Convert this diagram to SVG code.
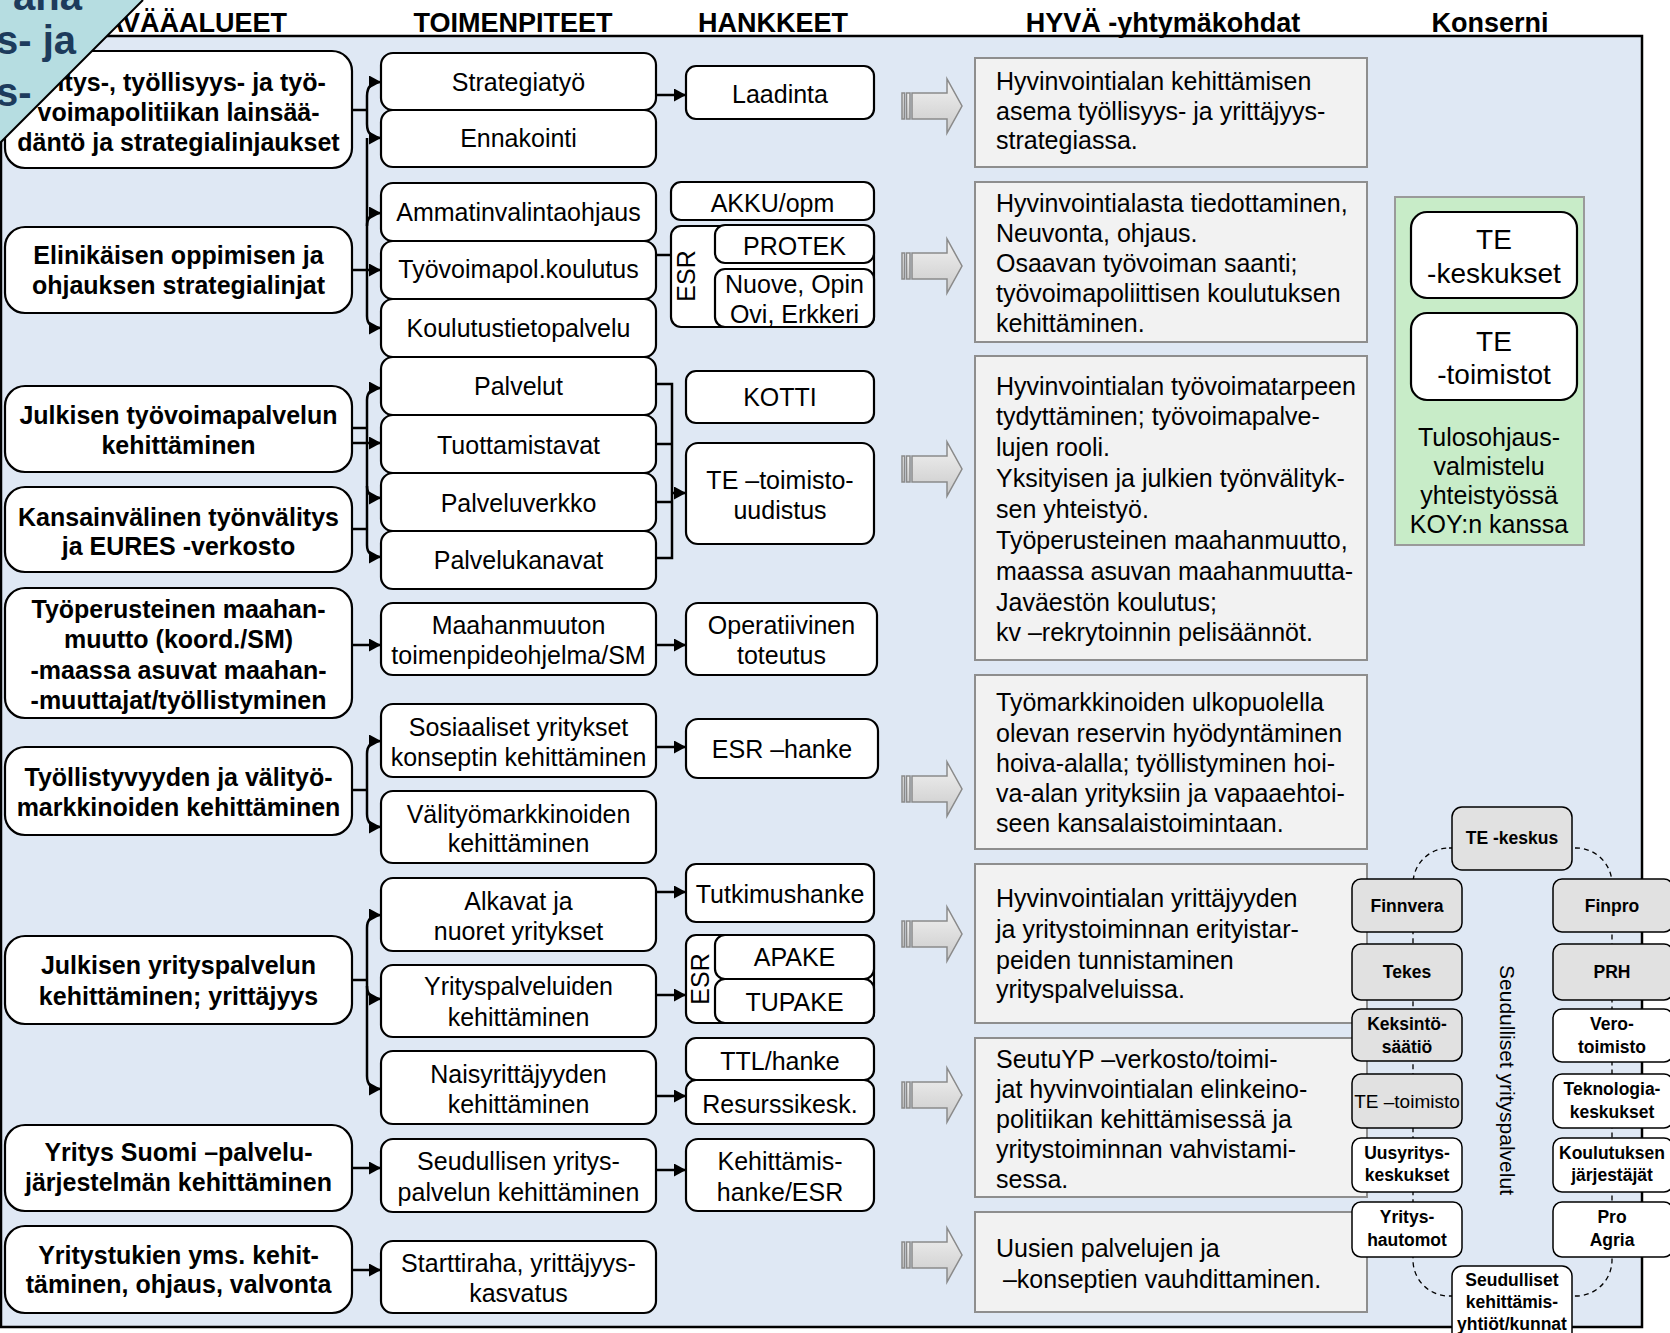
<svg xmlns="http://www.w3.org/2000/svg" width="1670" height="1333" viewBox="0 0 1670 1333">
<defs>
<style>
text{font-family:"Liberation Sans",Arial,Helvetica,sans-serif;fill:#000}
.r{font-size:25px}
.bd{font-size:25px;font-weight:bold}
.hd{font-size:27px;font-weight:bold}
.nd{font-size:17.5px;font-weight:bold}
.te{font-size:28px}
.m{text-anchor:middle}
.wb{fill:#fff;stroke:#000;stroke-width:2.2}
.gb{fill:#f2f2f2;stroke:#8e8e8e;stroke-width:2}
.ln{fill:none;stroke:#000;stroke-width:2.5}
.ar{fill:none;stroke:#000;stroke-width:2.5;marker-end:url(#ah)}
.nw{fill:#fff;stroke:#000;stroke-width:1.5}
.ng{fill:#e1e1e1;stroke:#000;stroke-width:1.5}
.fa{fill:url(#fg);stroke:#8a8a8a;stroke-width:1.5}
.tri{font-size:40px;font-weight:bold;fill:#1d3b5c}
</style>
<marker id="ah" markerUnits="userSpaceOnUse" markerWidth="12" markerHeight="13" viewBox="0 0 12 13" refX="12" refY="6.5" orient="auto"><path d="M0,0 L12,6.5 L0,13 Z" fill="#000"/></marker>
<linearGradient id="fg" x1="0" y1="0" x2="0" y2="1"><stop offset="0" stop-color="#f2f2f2"/><stop offset="1" stop-color="#cacaca"/></linearGradient>
<g id="fat">
<rect class="fa" x="902" y="-13" width="2.5" height="26"/>
<rect class="fa" x="906.5" y="-13" width="3.5" height="26"/>
<path class="fa" d="M912,-13 H947 V-27 L962,0 L947,27 V13 H912 Z"/>
</g>
<clipPath id="tc"><polygon points="0,0 143,0 0,143"/></clipPath>
</defs>

<rect x="1" y="36" width="1641" height="1291" fill="#dfe8f4" stroke="#000" stroke-width="2.5"/>

<g id="headers">
<text class="hd" x="287" y="32" text-anchor="end">AVÄÄALUEET</text>
<text class="hd m" x="513" y="32">TOIMENPITEET</text>
<text class="hd m" x="773" y="32">HANKKEET</text>
<text class="hd m" x="1163" y="32">HYVÄ -yhtymäkohdat</text>
<text class="hd m" x="1490" y="32">Konserni</text>
</g>

<g id="connectors">
<path class="ln" d="M352,110 H367"/>
<path class="ar" d="M367,110 V96 Q367,82 381,82"/>
<path class="ar" d="M367,110 V124 Q367,138 381,138"/>
<path class="ar" d="M352,270 H381"/>
<path class="ar" d="M367,138 V316 Q367,328 381,328"/>
<path class="ar" d="M367,226 Q367,213 381,213"/>
<path class="ln" d="M352,428 H367"/>
<path class="ar" d="M352,443 H381"/>
<path class="ar" d="M367,400 Q367,388 381,388"/>
<path class="ar" d="M367,400 V545 Q367,557 381,557"/>
<path class="ar" d="M367,486 Q367,498 381,498"/>
<path class="ln" d="M352,529 H367"/>
<path class="ar" d="M352,645 H381"/>
<path class="ln" d="M352,790 H367"/>
<path class="ar" d="M367,790 V754 Q367,741 381,741"/>
<path class="ar" d="M367,790 V814 Q367,827 381,827"/>
<path class="ln" d="M352,980 H367"/>
<path class="ar" d="M367,980 V928 Q367,915 381,915"/>
<path class="ar" d="M367,980 V1076 Q367,1089 381,1089"/>
<path class="ar" d="M367,986 Q367,999 381,999"/>
<path class="ar" d="M352,1168 H381"/>
<path class="ar" d="M352,1270 H381"/>
<path class="ar" d="M656,95 H686"/>
<path class="ln" d="M656,255 H671"/>
<path class="ln" d="M656,384 H672 V558 H656 M656,444 H672 M656,502 H672"/>
<path class="ar" d="M672,493 H686"/>
<path class="ar" d="M656,645 H686"/>
<path class="ar" d="M656,747 H686"/>
<path class="ar" d="M656,892 H686"/>
<path class="ar" d="M656,995 H686"/>
<path class="ar" d="M656,1096 H686"/>
<path class="ar" d="M656,1170 H686"/>
<use href="#fat" y="106"/>
<use href="#fat" y="266"/>
<use href="#fat" y="469"/>
<use href="#fat" y="789"/>
<use href="#fat" y="934"/>
<use href="#fat" y="1095"/>
<use href="#fat" y="1255"/>
<rect x="1413" y="848" width="199" height="448" rx="36" fill="none" stroke="#000" stroke-width="1.3" stroke-dasharray="5 4"/>
</g>

<g id="col1">
<g id="a1"><rect class="wb" x="5" y="51" width="347" height="117" rx="20"/>
<text class="bd m" x="178.5" y="91">Yritys-, työllisyys- ja työ-</text>
<text class="bd m" x="178.5" y="121">voimapolitiikan lainsää-</text>
<text class="bd m" x="178.5" y="151">däntö ja strategialinjaukset</text></g>
<g id="a2"><rect class="wb" x="5" y="227" width="347" height="86" rx="20"/>
<text class="bd m" x="178.5" y="264">Elinikäisen oppimisen ja</text>
<text class="bd m" x="178.5" y="294">ohjauksen strategialinjat</text></g>
<g id="a3"><rect class="wb" x="5" y="386" width="347" height="86" rx="20"/>
<text class="bd m" x="178.5" y="424">Julkisen työvoimapalvelun</text>
<text class="bd m" x="178.5" y="454">kehittäminen</text></g>
<g id="a4"><rect class="wb" x="5" y="487" width="347" height="85" rx="20"/>
<text class="bd m" x="178.5" y="526">Kansainvälinen työnvälitys</text>
<text class="bd m" x="178.5" y="555">ja EURES -verkosto</text></g>
<g id="a5"><rect class="wb" x="5" y="588" width="347" height="130" rx="20"/>
<text class="bd m" x="178.5" y="618">Työperusteinen maahan-</text>
<text class="bd m" x="178.5" y="648">muutto (koord./SM)</text>
<text class="bd m" x="178.5" y="679">-maassa asuvat maahan-</text>
<text class="bd m" x="178.5" y="709">-muuttajat/työllistyminen</text></g>
<g id="a6"><rect class="wb" x="5" y="747" width="347" height="88" rx="20"/>
<text class="bd m" x="178.5" y="786">Työllistyvyyden ja välityö-</text>
<text class="bd m" x="178.5" y="816">markkinoiden kehittäminen</text></g>
<g id="a7"><rect class="wb" x="5" y="936" width="347" height="88" rx="20"/>
<text class="bd m" x="178.5" y="974">Julkisen yrityspalvelun</text>
<text class="bd m" x="178.5" y="1005">kehittäminen; yrittäjyys</text></g>
<g id="a8"><rect class="wb" x="5" y="1125" width="347" height="86" rx="20"/>
<text class="bd m" x="178.5" y="1161">Yritys Suomi –palvelu-</text>
<text class="bd m" x="178.5" y="1191">järjestelmän kehittäminen</text></g>
<g id="a9"><rect class="wb" x="5" y="1226" width="347" height="87" rx="20"/>
<text class="bd m" x="178.5" y="1264">Yritystukien yms. kehit-</text>
<text class="bd m" x="178.5" y="1293">täminen, ohjaus, valvonta</text></g>
</g>

<g id="col2">
<g id="t1"><rect class="wb" x="381" y="53" width="275" height="57" rx="12"/><text class="r m" x="518.5" y="91">Strategiatyö</text></g>
<g id="t2"><rect class="wb" x="381" y="110" width="275" height="57" rx="12"/><text class="r m" x="518.5" y="147">Ennakointi</text></g>
<g id="t3"><rect class="wb" x="381" y="183" width="275" height="58" rx="12"/><text class="r m" x="518.5" y="221">Ammatinvalintaohjaus</text></g>
<g id="t4"><rect class="wb" x="381" y="241" width="275" height="58" rx="12"/><text class="r m" x="518.5" y="278">Työvoimapol.koulutus</text></g>
<g id="t5"><rect class="wb" x="381" y="299" width="275" height="58" rx="12"/><text class="r m" x="518.5" y="337">Koulutustietopalvelu</text></g>
<g id="t6"><rect class="wb" x="381" y="357" width="275" height="58" rx="12"/><text class="r m" x="518.5" y="395">Palvelut</text></g>
<g id="t7"><rect class="wb" x="381" y="415" width="275" height="58" rx="12"/><text class="r m" x="518.5" y="454">Tuottamistavat</text></g>
<g id="t8"><rect class="wb" x="381" y="473" width="275" height="58" rx="12"/><text class="r m" x="518.5" y="512">Palveluverkko</text></g>
<g id="t9"><rect class="wb" x="381" y="531" width="275" height="58" rx="12"/><text class="r m" x="518.5" y="569">Palvelukanavat</text></g>
<g id="t10"><rect class="wb" x="381" y="603" width="275" height="72" rx="12"/><text class="r m" x="518.5" y="634">Maahanmuuton</text><text class="r m" x="518.5" y="664">toimenpideohjelma/SM</text></g>
<g id="t11"><rect class="wb" x="381" y="704" width="275" height="73" rx="12"/><text class="r m" x="518.5" y="736">Sosiaaliset yritykset</text><text class="r m" x="518.5" y="766">konseptin kehittäminen</text></g>
<g id="t12"><rect class="wb" x="381" y="791" width="275" height="72" rx="12"/><text class="r m" x="518.5" y="823">Välityömarkkinoiden</text><text class="r m" x="518.5" y="852">kehittäminen</text></g>
<g id="t13"><rect class="wb" x="381" y="878" width="275" height="73" rx="12"/><text class="r m" x="518.5" y="910">Alkavat ja</text><text class="r m" x="518.5" y="940">nuoret yritykset</text></g>
<g id="t14"><rect class="wb" x="381" y="965" width="275" height="72" rx="12"/><text class="r m" x="518.5" y="995">Yrityspalveluiden</text><text class="r m" x="518.5" y="1026">kehittäminen</text></g>
<g id="t15"><rect class="wb" x="381" y="1051" width="275" height="73" rx="12"/><text class="r m" x="518.5" y="1083">Naisyrittäjyyden</text><text class="r m" x="518.5" y="1113">kehittäminen</text></g>
<g id="t16"><rect class="wb" x="381" y="1139" width="275" height="73" rx="12"/><text class="r m" x="518.5" y="1170">Seudullisen yritys-</text><text class="r m" x="518.5" y="1201">palvelun kehittäminen</text></g>
<g id="t17"><rect class="wb" x="381" y="1241" width="275" height="72" rx="12"/><text class="r m" x="518.5" y="1272">Starttiraha, yrittäjyys-</text><text class="r m" x="518.5" y="1302">kasvatus</text></g>
</g>

<g id="col3">
<g id="h1"><rect class="wb" x="686" y="66" width="188" height="53" rx="10"/><text class="r m" x="780" y="103">Laadinta</text></g>
<g id="h2"><rect class="wb" x="671" y="182" width="203" height="38" rx="10"/><text class="r m" x="772.5" y="212">AKKU/opm</text></g>
<g id="h3"><rect class="wb" x="671" y="226" width="203" height="101" rx="10"/>
<text class="r m" transform="translate(695,276) rotate(-90)" x="0" y="0">ESR</text>
<rect class="wb" x="715" y="225" width="159" height="38" rx="10"/><text class="r m" x="794.5" y="255">PROTEK</text>
<rect class="wb" x="715" y="269" width="159" height="58" rx="10"/><text class="r m" x="794.5" y="293">Nuove, Opin</text><text class="r m" x="794.5" y="323">Ovi, Erkkeri</text></g>
<g id="h4"><rect class="wb" x="686" y="371" width="188" height="52" rx="10"/><text class="r m" x="780" y="406">KOTTI</text></g>
<g id="h5"><rect class="wb" x="686" y="443" width="188" height="101" rx="12"/><text class="r m" x="780" y="489">TE –toimisto-</text><text class="r m" x="780" y="519">uudistus</text></g>
<g id="h6"><rect class="wb" x="686" y="603" width="191" height="72" rx="12"/><text class="r m" x="781.5" y="634">Operatiivinen</text><text class="r m" x="781.5" y="664">toteutus</text></g>
<g id="h7"><rect class="wb" x="686" y="719" width="192" height="59" rx="12"/><text class="r m" x="782" y="758">ESR –hanke</text></g>
<g id="h8"><rect class="wb" x="686" y="864" width="188" height="58" rx="10"/><text class="r m" x="780" y="903">Tutkimushanke</text></g>
<g id="h9"><rect class="wb" x="686" y="935" width="188" height="88" rx="10"/>
<text class="r m" transform="translate(709,979) rotate(-90)" x="0" y="0">ESR</text>
<rect class="wb" x="715" y="935" width="159" height="44" rx="10"/><text class="r m" x="794.5" y="966">APAKE</text>
<rect class="wb" x="715" y="979" width="159" height="44" rx="10"/><text class="r m" x="794.5" y="1011">TUPAKE</text></g>
<g id="h10"><rect class="wb" x="686" y="1038" width="188" height="42" rx="10"/><text class="r m" x="780" y="1070">TTL/hanke</text></g>
<g id="h11"><rect class="wb" x="686" y="1080" width="188" height="44" rx="10"/><text class="r m" x="780" y="1113">Resurssikesk.</text></g>
<g id="h12"><rect class="wb" x="686" y="1139" width="188" height="72" rx="12"/><text class="r m" x="780" y="1170">Kehittämis-</text><text class="r m" x="780" y="1201">hanke/ESR</text></g>
</g>

<g id="col4">
<g id="y1"><rect class="gb" x="975" y="58" width="392" height="109"/>
<text class="r" x="996" y="90">Hyvinvointialan kehittämisen</text>
<text class="r" x="996" y="120">asema työllisyys- ja yrittäjyys-</text>
<text class="r" x="996" y="149">strategiassa.</text></g>
<g id="y2"><rect class="gb" x="975" y="182" width="392" height="160"/>
<text class="r" x="996" y="212">Hyvinvointialasta tiedottaminen,</text>
<text class="r" x="996" y="242">Neuvonta, ohjaus.</text>
<text class="r" x="996" y="272">Osaavan työvoiman saanti;</text>
<text class="r" x="996" y="302">työvoimapoliittisen koulutuksen</text>
<text class="r" x="996" y="332">kehittäminen.</text></g>
<g id="y3"><rect class="gb" x="975" y="356" width="392" height="304"/>
<text class="r" x="996" y="395">Hyvinvointialan työvoimatarpeen</text>
<text class="r" x="996" y="425">tydyttäminen; työvoimapalve-</text>
<text class="r" x="996" y="456">lujen rooli.</text>
<text class="r" x="996" y="487">Yksityisen ja julkien työnvälityk-</text>
<text class="r" x="996" y="518">sen yhteistyö.</text>
<text class="r" x="996" y="549">Työperusteinen maahanmuutto,</text>
<text class="r" x="996" y="580">maassa asuvan maahanmuutta-</text>
<text class="r" x="996" y="611">Javäestön koulutus;</text>
<text class="r" x="996" y="641">kv –rekrytoinnin pelisäännöt.</text></g>
<g id="y4"><rect class="gb" x="975" y="675" width="392" height="174"/>
<text class="r" x="996" y="711">Työmarkkinoiden ulkopuolella</text>
<text class="r" x="996" y="742">olevan reservin hyödyntäminen</text>
<text class="r" x="996" y="772">hoiva-alalla; työllistyminen hoi-</text>
<text class="r" x="996" y="802">va-alan yrityksiin ja vapaaehtoi-</text>
<text class="r" x="996" y="832">seen kansalaistoimintaan.</text></g>
<g id="y5"><rect class="gb" x="975" y="864" width="392" height="159"/>
<text class="r" x="996" y="907">Hyvinvointialan yrittäjyyden</text>
<text class="r" x="996" y="938">ja yritystoiminnan erityistar-</text>
<text class="r" x="996" y="969">peiden tunnistaminen</text>
<text class="r" x="996" y="998">yrityspalveluissa.</text></g>
<g id="y6"><rect class="gb" x="975" y="1038" width="392" height="159"/>
<text class="r" x="996" y="1068">SeutuYP –verkosto/toimi-</text>
<text class="r" x="996" y="1098">jat hyvinvointialan elinkeino-</text>
<text class="r" x="996" y="1128">politiikan kehittämisessä ja</text>
<text class="r" x="996" y="1158">yritystoiminnan vahvistami-</text>
<text class="r" x="996" y="1188">sessa.</text></g>
<g id="y7"><rect class="gb" x="975" y="1212" width="392" height="100"/>
<text class="r" x="996" y="1257">Uusien palvelujen ja</text>
<text class="r" x="996" y="1288" xml:space="preserve"> –konseptien vauhdittaminen.</text></g>
</g>

<g id="konserni">
<rect x="1395" y="197" width="189" height="348" fill="#c8ecc8" stroke="#9a9a9a" stroke-width="2"/>
<g id="k1"><rect class="wb" x="1411" y="212" width="166" height="86" rx="16"/><text class="te m" x="1494" y="249">TE</text><text class="te m" x="1494" y="283">-keskukset</text></g>
<g id="k2"><rect class="wb" x="1411" y="313" width="166" height="87" rx="16"/><text class="te m" x="1494" y="351">TE</text><text class="te m" x="1494" y="384">-toimistot</text></g>
<text class="r m" x="1489" y="446">Tulosohjaus-</text>
<text class="r m" x="1489" y="475">valmistelu</text>
<text class="r m" x="1489" y="504">yhteistyössä</text>
<text class="r m" x="1489" y="533">KOY:n kanssa</text>
</g>

<g id="network">
<text style="font-size:21px" class="m" transform="translate(1500,1080) rotate(90)" x="0" y="0">Seudulliset yrityspalvelut</text>
<g id="n0"><rect class="ng" x="1452" y="807" width="120" height="63" rx="10"/><text class="nd m" x="1512" y="844">TE -keskus</text></g>
<g id="n1"><rect class="ng" x="1352" y="879" width="110" height="53" rx="9"/><text class="nd m" x="1407" y="912">Finnvera</text></g>
<g id="n2"><rect class="ng" x="1553" y="879" width="120" height="53" rx="9"/><text class="nd m" x="1612" y="912">Finpro</text></g>
<g id="n3"><rect class="ng" x="1352" y="944" width="110" height="56" rx="9"/><text class="nd m" x="1407" y="978">Tekes</text></g>
<g id="n4"><rect class="ng" x="1553" y="944" width="120" height="56" rx="9"/><text class="nd m" x="1612" y="978">PRH</text></g>
<g id="n5"><rect class="ng" x="1352" y="1009" width="110" height="52" rx="9"/><text class="nd m" x="1407" y="1030">Keksintö-</text><text class="nd m" x="1407" y="1053">säätiö</text></g>
<g id="n6"><rect class="nw" x="1553" y="1009" width="120" height="53" rx="9"/><text class="nd m" x="1612" y="1030">Vero-</text><text class="nd m" x="1612" y="1053">toimisto</text></g>
<g id="n7"><rect class="ng" x="1352" y="1074" width="110" height="54" rx="9"/><text class="m" style="font-size:19px" x="1407" y="1108">TE –toimisto</text></g>
<g id="n8"><rect class="nw" x="1553" y="1074" width="120" height="54" rx="9"/><text class="nd m" x="1612" y="1095">Teknologia-</text><text class="nd m" x="1612" y="1118">keskukset</text></g>
<g id="n9"><rect class="nw" x="1352" y="1138" width="110" height="54" rx="9"/><text class="nd m" x="1407" y="1159">Uusyritys-</text><text class="nd m" x="1407" y="1181">keskukset</text></g>
<g id="n10"><rect class="nw" x="1553" y="1138" width="120" height="54" rx="9"/><text class="nd m" x="1612" y="1159">Koulutuksen</text><text class="nd m" x="1612" y="1181">järjestäjät</text></g>
<g id="n11"><rect class="nw" x="1352" y="1202" width="110" height="55" rx="9"/><text class="nd m" x="1407" y="1223">Yritys-</text><text class="nd m" x="1407" y="1246">hautomot</text></g>
<g id="n12"><rect class="nw" x="1553" y="1202" width="120" height="55" rx="9"/><text class="nd m" x="1612" y="1223">Pro</text><text class="nd m" x="1612" y="1246">Agria</text></g>
<g id="n13"><rect class="nw" x="1452" y="1266" width="120" height="80" rx="10"/><text class="nd m" x="1512" y="1286">Seudulliset</text><text class="nd m" x="1512" y="1308">kehittämis-</text><text class="nd m" x="1512" y="1330">yhtiöt/kunnat</text></g>
</g>

<g id="corner">
<polygon points="0,0 143,0 0,143" fill="#b6dde1"/>
<g clip-path="url(#tc)">
<text class="tri" x="13" y="10">ana</text>
<text class="tri" x="-4" y="54">s- ja</text>
<text class="tri" x="-4" y="106">s-</text>
</g>
<line x1="143" y1="0" x2="0" y2="143" stroke="#000" stroke-width="2"/>
</g>
</svg>
